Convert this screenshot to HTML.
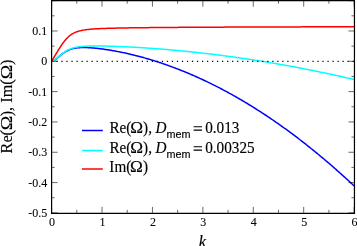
<!DOCTYPE html>
<html><head><meta charset="utf-8"><style>
html,body{margin:0;padding:0;background:#fff;width:357px;height:246px;overflow:hidden}
svg{display:block;will-change:transform}
text{font-family:"Liberation Serif",serif;fill:#000;stroke:#000;stroke-width:0.15px}
.tk text{stroke-width:0.08px}
</style></head><body>
<svg width="357" height="246" viewBox="0 0 357 246">
<path d="M51.60,61.30 L51.85,61.29 L52.10,61.26 L52.36,61.22 L52.61,61.16 L52.86,61.08 L53.11,60.98 L53.36,60.87 L53.62,60.75 L53.87,60.61 L54.12,60.47 L54.37,60.31 L54.63,60.14 L54.88,59.96 L55.13,59.78 L55.38,59.59 L55.63,59.40 L55.89,59.20 L56.14,58.99 L56.39,58.78 L56.64,58.57 L56.89,58.36 L57.15,58.15 L57.40,57.93 L57.65,57.71 L57.90,57.50 L58.15,57.28 L58.41,57.06 L58.66,56.85 L58.91,56.63 L59.16,56.42 L59.42,56.20 L59.67,55.99 L59.92,55.78 L60.17,55.57 L60.42,55.36 L60.68,55.16 L60.93,54.95 L61.18,54.75 L61.43,54.55 L61.68,54.35 L62.19,53.96 L62.69,53.58 L63.20,53.22 L63.70,52.86 L64.20,52.52 L64.71,52.19 L65.21,51.87 L65.72,51.56 L66.22,51.27 L66.73,50.99 L67.23,50.73 L67.73,50.47 L68.24,50.23 L68.74,50.01 L69.25,49.80 L69.75,49.60 L70.26,49.41 L70.76,49.23 L71.26,49.07 L71.77,48.91 L72.27,48.77 L72.78,48.64 L73.28,48.51 L73.78,48.40 L74.29,48.30 L74.79,48.20 L75.30,48.11 L75.80,48.03 L76.31,47.96 L76.81,47.89 L77.31,47.83 L77.82,47.78 L78.32,47.73 L78.83,47.69 L79.33,47.66 L79.84,47.63 L80.34,47.60 L80.84,47.58 L81.35,47.56 L81.85,47.55 L82.36,47.54 L82.86,47.53 L83.36,47.53 L83.87,47.53 L84.37,47.53 L84.88,47.54 L85.38,47.55 L85.89,47.56 L86.39,47.58 L86.89,47.59 L87.40,47.61 L87.90,47.64 L88.41,47.66 L88.91,47.69 L89.41,47.72 L89.92,47.75 L90.42,47.78 L90.93,47.82 L91.43,47.85 L91.94,47.89 L92.44,47.93 L92.94,47.97 L93.45,48.02 L93.95,48.06 L94.46,48.11 L94.96,48.16 L95.47,48.21 L95.97,48.26 L96.47,48.31 L96.98,48.36 L97.48,48.42 L97.99,48.47 L98.49,48.53 L98.99,48.59 L99.50,48.65 L100.00,48.71 L100.51,48.77 L101.01,48.84 L101.52,48.90 L102.02,48.97 L103.03,49.10 L104.04,49.24 L105.05,49.39 L106.05,49.53 L107.06,49.69 L108.07,49.84 L109.08,50.00 L110.09,50.17 L111.10,50.34 L112.10,50.51 L113.11,50.68 L114.12,50.86 L115.13,51.05 L116.14,51.23 L117.15,51.42 L118.15,51.62 L119.16,51.81 L120.17,52.02 L121.18,52.22 L122.19,52.43 L123.20,52.64 L124.20,52.85 L125.21,53.07 L126.22,53.30 L127.23,53.52 L128.24,53.75 L129.25,53.98 L130.26,54.22 L131.26,54.46 L132.27,54.70 L133.28,54.94 L134.29,55.19 L135.30,55.45 L136.31,55.70 L137.31,55.96 L138.32,56.22 L139.33,56.49 L140.34,56.76 L141.35,57.03 L142.36,57.30 L143.36,57.58 L144.37,57.87 L145.38,58.15 L146.39,58.44 L147.40,58.73 L148.41,59.03 L149.41,59.32 L150.42,59.63 L151.43,59.93 L152.44,60.24 L153.45,60.55 L154.46,60.87 L155.47,61.18 L156.47,61.50 L157.48,61.83 L158.49,62.16 L159.50,62.49 L160.51,62.82 L161.52,63.16 L162.52,63.50 L163.53,63.84 L164.54,64.19 L165.55,64.54 L166.56,64.89 L167.57,65.25 L168.57,65.61 L169.58,65.97 L170.59,66.34 L171.60,66.71 L172.61,67.08 L173.62,67.46 L174.62,67.84 L175.63,68.22 L176.64,68.60 L177.65,68.99 L178.66,69.39 L179.67,69.78 L180.68,70.18 L181.68,70.58 L182.69,70.99 L183.70,71.39 L184.71,71.80 L185.72,72.22 L186.73,72.64 L187.73,73.06 L188.74,73.48 L189.75,73.91 L190.76,74.34 L191.77,74.77 L192.78,75.21 L193.78,75.65 L194.79,76.09 L195.80,76.54 L196.81,76.99 L197.82,77.44 L198.83,77.90 L199.83,78.35 L200.84,78.82 L201.85,79.28 L202.86,79.75 L203.87,80.22 L204.88,80.70 L205.89,81.18 L206.89,81.66 L207.90,82.14 L208.91,82.63 L209.92,83.12 L210.93,83.61 L211.94,84.11 L212.94,84.61 L213.95,85.11 L214.96,85.62 L215.97,86.13 L216.98,86.64 L217.99,87.16 L218.99,87.68 L220.00,88.20 L221.01,88.73 L222.02,89.26 L223.03,89.79 L224.04,90.32 L225.04,90.86 L226.05,91.41 L227.06,91.95 L228.07,92.50 L229.08,93.05 L230.09,93.60 L231.10,94.16 L232.10,94.72 L233.11,95.29 L234.12,95.85 L235.13,96.42 L236.14,97.00 L237.15,97.57 L238.15,98.15 L239.16,98.74 L240.17,99.32 L241.18,99.91 L242.19,100.50 L243.20,101.10 L244.20,101.70 L245.21,102.30 L246.22,102.90 L247.23,103.51 L248.24,104.12 L249.25,104.74 L250.25,105.36 L251.26,105.98 L252.27,106.60 L253.28,107.23 L254.29,107.86 L255.30,108.49 L256.31,109.13 L257.31,109.77 L258.32,110.41 L259.33,111.06 L260.34,111.71 L261.35,112.36 L262.36,113.02 L263.36,113.68 L264.37,114.34 L265.38,115.00 L266.39,115.67 L267.40,116.34 L268.41,117.02 L269.41,117.70 L270.42,118.38 L271.43,119.06 L272.44,119.75 L273.45,120.44 L274.46,121.13 L275.46,121.83 L276.47,122.53 L277.48,123.23 L278.49,123.94 L279.50,124.65 L280.51,125.36 L281.52,126.08 L282.52,126.80 L283.53,127.52 L284.54,128.25 L285.55,128.97 L286.56,129.71 L287.57,130.44 L288.57,131.18 L289.58,131.92 L290.59,132.66 L291.60,133.41 L292.61,134.16 L293.62,134.92 L294.62,135.67 L295.63,136.43 L296.64,137.20 L297.65,137.96 L298.66,138.73 L299.67,139.51 L300.67,140.28 L301.68,141.06 L302.69,141.84 L303.70,142.63 L304.71,143.42 L305.72,144.21 L306.73,145.00 L307.73,145.80 L308.74,146.60 L309.75,147.41 L310.76,148.22 L311.77,149.03 L312.78,149.84 L313.78,150.66 L314.79,151.48 L315.80,152.30 L316.81,153.13 L317.82,153.96 L318.83,154.79 L319.83,155.63 L320.84,156.47 L321.85,157.31 L322.86,158.15 L323.87,159.00 L324.88,159.85 L325.88,160.71 L326.89,161.57 L327.90,162.43 L328.91,163.29 L329.92,164.16 L330.93,165.03 L331.94,165.91 L332.94,166.78 L333.95,167.66 L334.96,168.55 L335.97,169.43 L336.98,170.32 L337.99,171.22 L338.99,172.11 L340.00,173.01 L341.01,173.91 L342.02,174.82 L343.03,175.73 L344.04,176.64 L345.04,177.56 L346.05,178.47 L347.06,179.40 L348.07,180.32 L349.08,181.25 L350.09,182.18 L351.09,183.11 L352.10,184.05 L353.11,184.99 L354.12,185.93" stroke="#0000ff" stroke-width="1.5" fill="none" stroke-linejoin="round"/>
<path d="M51.60,61.30 L51.85,61.29 L52.10,61.26 L52.36,61.22 L52.61,61.16 L52.86,61.08 L53.11,60.98 L53.36,60.87 L53.62,60.75 L53.87,60.61 L54.12,60.46 L54.37,60.30 L54.63,60.13 L54.88,59.95 L55.13,59.77 L55.38,59.57 L55.63,59.38 L55.89,59.17 L56.14,58.97 L56.39,58.76 L56.64,58.54 L56.89,58.33 L57.15,58.11 L57.40,57.89 L57.65,57.67 L57.90,57.45 L58.15,57.23 L58.41,57.01 L58.66,56.79 L58.91,56.57 L59.16,56.35 L59.42,56.13 L59.67,55.92 L59.92,55.70 L60.17,55.48 L60.42,55.27 L60.68,55.06 L60.93,54.85 L61.18,54.64 L61.43,54.44 L61.68,54.23 L62.19,53.83 L62.69,53.44 L63.20,53.06 L63.70,52.69 L64.20,52.33 L64.71,51.99 L65.21,51.65 L65.72,51.33 L66.22,51.02 L66.73,50.72 L67.23,50.44 L67.73,50.17 L68.24,49.91 L68.74,49.67 L69.25,49.43 L69.75,49.21 L70.26,49.00 L70.76,48.80 L71.26,48.62 L71.77,48.44 L72.27,48.27 L72.78,48.12 L73.28,47.97 L73.78,47.83 L74.29,47.70 L74.79,47.58 L75.30,47.46 L75.80,47.35 L76.31,47.25 L76.81,47.16 L77.31,47.07 L77.82,46.98 L78.32,46.90 L78.83,46.83 L79.33,46.76 L79.84,46.70 L80.34,46.64 L80.84,46.58 L81.35,46.53 L81.85,46.48 L82.36,46.44 L82.86,46.39 L83.36,46.35 L83.87,46.32 L84.37,46.28 L84.88,46.25 L85.38,46.22 L85.89,46.19 L86.39,46.17 L86.89,46.15 L87.40,46.12 L87.90,46.10 L88.41,46.09 L88.91,46.07 L89.41,46.05 L89.92,46.04 L90.42,46.03 L90.93,46.02 L91.43,46.01 L91.94,46.00 L92.44,45.99 L92.94,45.99 L93.45,45.98 L93.95,45.98 L94.46,45.97 L94.96,45.97 L95.47,45.97 L95.97,45.97 L96.47,45.97 L96.98,45.97 L97.48,45.97 L97.99,45.97 L98.49,45.97 L98.99,45.98 L99.50,45.98 L100.00,45.99 L100.51,45.99 L101.01,46.00 L101.52,46.00 L102.02,46.01 L103.03,46.03 L104.04,46.05 L105.05,46.06 L106.05,46.09 L107.06,46.11 L108.07,46.13 L109.08,46.16 L110.09,46.19 L111.10,46.22 L112.10,46.25 L113.11,46.28 L114.12,46.32 L115.13,46.35 L116.14,46.39 L117.15,46.43 L118.15,46.47 L119.16,46.51 L120.17,46.55 L121.18,46.59 L122.19,46.63 L123.20,46.68 L124.20,46.72 L125.21,46.77 L126.22,46.82 L127.23,46.87 L128.24,46.92 L129.25,46.97 L130.26,47.02 L131.26,47.08 L132.27,47.13 L133.28,47.19 L134.29,47.24 L135.30,47.30 L136.31,47.36 L137.31,47.42 L138.32,47.48 L139.33,47.54 L140.34,47.60 L141.35,47.66 L142.36,47.73 L143.36,47.79 L144.37,47.86 L145.38,47.92 L146.39,47.99 L147.40,48.06 L148.41,48.13 L149.41,48.20 L150.42,48.27 L151.43,48.34 L152.44,48.41 L153.45,48.49 L154.46,48.56 L155.47,48.64 L156.47,48.72 L157.48,48.79 L158.49,48.87 L159.50,48.95 L160.51,49.03 L161.52,49.11 L162.52,49.19 L163.53,49.27 L164.54,49.36 L165.55,49.44 L166.56,49.53 L167.57,49.61 L168.57,49.70 L169.58,49.79 L170.59,49.87 L171.60,49.96 L172.61,50.05 L173.62,50.15 L174.62,50.24 L175.63,50.33 L176.64,50.42 L177.65,50.52 L178.66,50.61 L179.67,50.71 L180.68,50.81 L181.68,50.90 L182.69,51.00 L183.70,51.10 L184.71,51.20 L185.72,51.30 L186.73,51.40 L187.73,51.51 L188.74,51.61 L189.75,51.71 L190.76,51.82 L191.77,51.93 L192.78,52.03 L193.78,52.14 L194.79,52.25 L195.80,52.36 L196.81,52.47 L197.82,52.58 L198.83,52.69 L199.83,52.80 L200.84,52.92 L201.85,53.03 L202.86,53.14 L203.87,53.26 L204.88,53.38 L205.89,53.49 L206.89,53.61 L207.90,53.73 L208.91,53.85 L209.92,53.97 L210.93,54.09 L211.94,54.22 L212.94,54.34 L213.95,54.46 L214.96,54.59 L215.97,54.71 L216.98,54.84 L217.99,54.97 L218.99,55.10 L220.00,55.22 L221.01,55.35 L222.02,55.48 L223.03,55.62 L224.04,55.75 L225.04,55.88 L226.05,56.01 L227.06,56.15 L228.07,56.28 L229.08,56.42 L230.09,56.56 L231.10,56.70 L232.10,56.83 L233.11,56.97 L234.12,57.11 L235.13,57.25 L236.14,57.40 L237.15,57.54 L238.15,57.68 L239.16,57.83 L240.17,57.97 L241.18,58.12 L242.19,58.26 L243.20,58.41 L244.20,58.56 L245.21,58.71 L246.22,58.86 L247.23,59.01 L248.24,59.16 L249.25,59.31 L250.25,59.47 L251.26,59.62 L252.27,59.77 L253.28,59.93 L254.29,60.09 L255.30,60.24 L256.31,60.40 L257.31,60.56 L258.32,60.72 L259.33,60.88 L260.34,61.04 L261.35,61.20 L262.36,61.37 L263.36,61.53 L264.37,61.69 L265.38,61.86 L266.39,62.02 L267.40,62.19 L268.41,62.36 L269.41,62.53 L270.42,62.70 L271.43,62.87 L272.44,63.04 L273.45,63.21 L274.46,63.38 L275.46,63.55 L276.47,63.73 L277.48,63.90 L278.49,64.08 L279.50,64.25 L280.51,64.43 L281.52,64.61 L282.52,64.79 L283.53,64.97 L284.54,65.15 L285.55,65.33 L286.56,65.51 L287.57,65.69 L288.57,65.88 L289.58,66.06 L290.59,66.25 L291.60,66.43 L292.61,66.62 L293.62,66.81 L294.62,66.99 L295.63,67.18 L296.64,67.37 L297.65,67.56 L298.66,67.75 L299.67,67.95 L300.67,68.14 L301.68,68.33 L302.69,68.53 L303.70,68.72 L304.71,68.92 L305.72,69.12 L306.73,69.31 L307.73,69.51 L308.74,69.71 L309.75,69.91 L310.76,70.11 L311.77,70.32 L312.78,70.52 L313.78,70.72 L314.79,70.93 L315.80,71.13 L316.81,71.34 L317.82,71.54 L318.83,71.75 L319.83,71.96 L320.84,72.17 L321.85,72.38 L322.86,72.59 L323.87,72.80 L324.88,73.01 L325.88,73.22 L326.89,73.44 L327.90,73.65 L328.91,73.87 L329.92,74.08 L330.93,74.30 L331.94,74.52 L332.94,74.74 L333.95,74.96 L334.96,75.18 L335.97,75.40 L336.98,75.62 L337.99,75.84 L338.99,76.07 L340.00,76.29 L341.01,76.51 L342.02,76.74 L343.03,76.97 L344.04,77.19 L345.04,77.42 L346.05,77.65 L347.06,77.88 L348.07,78.11 L349.08,78.34 L350.09,78.57 L351.09,78.81 L352.10,79.04 L353.11,79.27 L354.12,79.51" stroke="#00ffff" stroke-width="1.5" fill="none" stroke-linejoin="round"/>
<path d="M51.60,61.30 L51.85,60.88 L52.10,60.45 L52.36,60.03 L52.61,59.61 L52.86,59.18 L53.11,58.76 L53.36,58.34 L53.62,57.91 L53.87,57.49 L54.12,57.07 L54.37,56.65 L54.63,56.22 L54.88,55.80 L55.13,55.38 L55.38,54.96 L55.63,54.54 L55.89,54.12 L56.14,53.70 L56.39,53.29 L56.64,52.87 L56.89,52.45 L57.15,52.04 L57.40,51.62 L57.65,51.21 L57.90,50.80 L58.15,50.39 L58.41,49.98 L58.66,49.58 L58.91,49.17 L59.16,48.77 L59.42,48.37 L59.67,47.97 L59.92,47.58 L60.17,47.19 L60.42,46.80 L60.68,46.41 L60.93,46.03 L61.18,45.65 L61.43,45.28 L61.68,44.90 L62.19,44.17 L62.69,43.46 L63.20,42.76 L63.70,42.08 L64.20,41.42 L64.71,40.79 L65.21,40.17 L65.72,39.58 L66.22,39.01 L66.73,38.46 L67.23,37.93 L67.73,37.43 L68.24,36.95 L68.74,36.50 L69.25,36.06 L69.75,35.65 L70.26,35.26 L70.76,34.89 L71.26,34.54 L71.77,34.21 L72.27,33.90 L72.78,33.60 L73.28,33.32 L73.78,33.06 L74.29,32.81 L74.79,32.58 L75.30,32.36 L75.80,32.15 L76.31,31.95 L76.81,31.77 L77.31,31.59 L77.82,31.43 L78.32,31.27 L78.83,31.13 L79.33,30.99 L79.84,30.86 L80.34,30.73 L80.84,30.62 L81.35,30.51 L81.85,30.40 L82.36,30.30 L82.86,30.21 L83.36,30.12 L83.87,30.03 L84.37,29.95 L84.88,29.88 L85.38,29.80 L85.89,29.73 L86.39,29.67 L86.89,29.61 L87.40,29.55 L87.90,29.49 L88.41,29.43 L88.91,29.38 L89.41,29.33 L89.92,29.28 L90.42,29.24 L90.93,29.19 L91.43,29.15 L91.94,29.11 L92.44,29.07 L92.94,29.03 L93.45,29.00 L93.95,28.96 L94.46,28.93 L94.96,28.90 L95.47,28.86 L95.97,28.83 L96.47,28.80 L96.98,28.78 L97.48,28.75 L97.99,28.72 L98.49,28.70 L98.99,28.67 L99.50,28.65 L100.00,28.62 L100.51,28.60 L101.01,28.58 L101.52,28.56 L102.02,28.54 L103.03,28.50 L104.04,28.46 L105.05,28.42 L106.05,28.39 L107.06,28.36 L108.07,28.33 L109.08,28.30 L110.09,28.27 L111.10,28.24 L112.10,28.21 L113.11,28.19 L114.12,28.16 L115.13,28.14 L116.14,28.12 L117.15,28.09 L118.15,28.07 L119.16,28.05 L120.17,28.03 L121.18,28.01 L122.19,27.99 L123.20,27.98 L124.20,27.96 L125.21,27.94 L126.22,27.92 L127.23,27.91 L128.24,27.89 L129.25,27.87 L130.26,27.86 L131.26,27.84 L132.27,27.83 L133.28,27.82 L134.29,27.80 L135.30,27.79 L136.31,27.77 L137.31,27.76 L138.32,27.75 L139.33,27.74 L140.34,27.72 L141.35,27.71 L142.36,27.70 L143.36,27.69 L144.37,27.68 L145.38,27.66 L146.39,27.65 L147.40,27.64 L148.41,27.63 L149.41,27.62 L150.42,27.61 L151.43,27.60 L152.44,27.59 L153.45,27.58 L154.46,27.57 L155.47,27.56 L156.47,27.55 L157.48,27.54 L158.49,27.53 L159.50,27.52 L160.51,27.52 L161.52,27.51 L162.52,27.50 L163.53,27.49 L164.54,27.48 L165.55,27.47 L166.56,27.46 L167.57,27.46 L168.57,27.45 L169.58,27.44 L170.59,27.43 L171.60,27.43 L172.61,27.42 L173.62,27.41 L174.62,27.40 L175.63,27.40 L176.64,27.39 L177.65,27.38 L178.66,27.37 L179.67,27.37 L180.68,27.36 L181.68,27.35 L182.69,27.35 L183.70,27.34 L184.71,27.33 L185.72,27.33 L186.73,27.32 L187.73,27.31 L188.74,27.31 L189.75,27.30 L190.76,27.30 L191.77,27.29 L192.78,27.28 L193.78,27.28 L194.79,27.27 L195.80,27.27 L196.81,27.26 L197.82,27.25 L198.83,27.25 L199.83,27.24 L200.84,27.24 L201.85,27.23 L202.86,27.23 L203.87,27.22 L204.88,27.22 L205.89,27.21 L206.89,27.21 L207.90,27.20 L208.91,27.20 L209.92,27.19 L210.93,27.19 L211.94,27.18 L212.94,27.18 L213.95,27.17 L214.96,27.17 L215.97,27.16 L216.98,27.16 L217.99,27.15 L218.99,27.15 L220.00,27.14 L221.01,27.14 L222.02,27.13 L223.03,27.13 L224.04,27.13 L225.04,27.12 L226.05,27.12 L227.06,27.11 L228.07,27.11 L229.08,27.10 L230.09,27.10 L231.10,27.10 L232.10,27.09 L233.11,27.09 L234.12,27.08 L235.13,27.08 L236.14,27.08 L237.15,27.07 L238.15,27.07 L239.16,27.06 L240.17,27.06 L241.18,27.06 L242.19,27.05 L243.20,27.05 L244.20,27.04 L245.21,27.04 L246.22,27.04 L247.23,27.03 L248.24,27.03 L249.25,27.03 L250.25,27.02 L251.26,27.02 L252.27,27.02 L253.28,27.01 L254.29,27.01 L255.30,27.01 L256.31,27.00 L257.31,27.00 L258.32,27.00 L259.33,26.99 L260.34,26.99 L261.35,26.99 L262.36,26.98 L263.36,26.98 L264.37,26.98 L265.38,26.97 L266.39,26.97 L267.40,26.97 L268.41,26.96 L269.41,26.96 L270.42,26.96 L271.43,26.95 L272.44,26.95 L273.45,26.95 L274.46,26.95 L275.46,26.94 L276.47,26.94 L277.48,26.94 L278.49,26.93 L279.50,26.93 L280.51,26.93 L281.52,26.93 L282.52,26.92 L283.53,26.92 L284.54,26.92 L285.55,26.91 L286.56,26.91 L287.57,26.91 L288.57,26.91 L289.58,26.90 L290.59,26.90 L291.60,26.90 L292.61,26.90 L293.62,26.89 L294.62,26.89 L295.63,26.89 L296.64,26.89 L297.65,26.88 L298.66,26.88 L299.67,26.88 L300.67,26.88 L301.68,26.87 L302.69,26.87 L303.70,26.87 L304.71,26.87 L305.72,26.86 L306.73,26.86 L307.73,26.86 L308.74,26.86 L309.75,26.85 L310.76,26.85 L311.77,26.85 L312.78,26.85 L313.78,26.85 L314.79,26.84 L315.80,26.84 L316.81,26.84 L317.82,26.84 L318.83,26.83 L319.83,26.83 L320.84,26.83 L321.85,26.83 L322.86,26.83 L323.87,26.82 L324.88,26.82 L325.88,26.82 L326.89,26.82 L327.90,26.81 L328.91,26.81 L329.92,26.81 L330.93,26.81 L331.94,26.81 L332.94,26.80 L333.95,26.80 L334.96,26.80 L335.97,26.80 L336.98,26.80 L337.99,26.79 L338.99,26.79 L340.00,26.79 L341.01,26.79 L342.02,26.79 L343.03,26.78 L344.04,26.78 L345.04,26.78 L346.05,26.78 L347.06,26.78 L348.07,26.78 L349.08,26.77 L350.09,26.77 L351.09,26.77 L352.10,26.77 L353.11,26.77 L354.12,26.76" stroke="#ff0000" stroke-width="1.5" fill="none" stroke-linejoin="round"/>
<path d="M56.4,61.35H354" stroke="#000" stroke-width="1.3" stroke-dasharray="1.2 3.82" fill="none"/>
<path d="M51.60,212.9v-6M51.60,0.66v6M76.81,212.9v-3M76.81,0.66v3M102.02,212.9v-6M102.02,0.66v6M127.23,212.9v-3M127.23,0.66v3M152.44,212.9v-6M152.44,0.66v6M177.65,212.9v-3M177.65,0.66v3M202.86,212.9v-6M202.86,0.66v6M228.07,212.9v-3M228.07,0.66v3M253.28,212.9v-6M253.28,0.66v6M278.49,212.9v-3M278.49,0.66v3M303.70,212.9v-6M303.70,0.66v6M328.91,212.9v-3M328.91,0.66v3M354.12,212.9v-6M354.12,0.66v6M51.6,212.90h6M354.45,212.90h-6M51.6,197.74h3M354.45,197.74h-3M51.6,182.58h6M354.45,182.58h-6M51.6,167.42h3M354.45,167.42h-3M51.6,152.26h6M354.45,152.26h-6M51.6,137.10h3M354.45,137.10h-3M51.6,121.94h6M354.45,121.94h-6M51.6,106.78h3M354.45,106.78h-3M51.6,91.62h6M354.45,91.62h-6M51.6,76.46h3M354.45,76.46h-3M51.6,61.30h6M354.45,61.30h-6M51.6,46.14h3M354.45,46.14h-3M51.6,30.98h6M354.45,30.98h-6M51.6,15.82h3M354.45,15.82h-3M51.6,0.66h6M354.45,0.66h-6" stroke="#000" stroke-width="0.6" fill="none"/>
<path d="M51.6,0.66H354.45V213.35H51.6Z" fill="none" stroke="#000" stroke-width="1.2"/>
<g font-size="12" class="tk">
<text x="47.3" y="216.95" text-anchor="end">-0.5</text><text x="47.3" y="186.63" text-anchor="end">-0.4</text><text x="47.3" y="156.31" text-anchor="end">-0.3</text><text x="47.3" y="125.99" text-anchor="end">-0.2</text><text x="47.3" y="95.67" text-anchor="end">-0.1</text><text x="47.3" y="65.35" text-anchor="end">0</text><text x="47.3" y="35.03" text-anchor="end">0.1</text>
<text x="52.10" y="226.3" text-anchor="middle">0</text><text x="102.52" y="226.3" text-anchor="middle">1</text><text x="152.94" y="226.3" text-anchor="middle">2</text><text x="203.36" y="226.3" text-anchor="middle">3</text><text x="253.78" y="226.3" text-anchor="middle">4</text><text x="304.20" y="226.3" text-anchor="middle">5</text><text x="354.62" y="226.3" text-anchor="middle">6</text>
</g>
<text x="202.4" y="246.5" font-size="16.3" font-style="italic" text-anchor="middle">k</text>
<g transform="translate(11.8,0) rotate(-90)"><text x="-153.47" y="0" font-size="16.3">Re(</text><text transform="translate(-130.31,0) scale(1.2,1)" font-size="16.3">Ω</text><text x="-116.33" y="0" font-size="16.3">), Im(</text><text transform="translate(-79.31,0) scale(1.2,1)" font-size="16.3">Ω</text><text x="-64.93" y="0" font-size="16.3">)</text></g>
<path d="M82,130.5H102.8" stroke="#0000ff" stroke-width="1.5"/>
<path d="M82,150.5H102.8" stroke="#00ffff" stroke-width="1.5"/>
<path d="M82,169.0H102.8" stroke="#ff0000" stroke-width="1.5"/>
<text transform="translate(109.46,132.6) scale(1,1.05)" font-size="15.2">Re(</text><text transform="translate(130.21,132.6) scale(1.134,1.05)" font-size="15.2">Ω</text><text transform="translate(143.11,132.6) scale(1,1.05)" font-size="15.2">),</text><text transform="translate(155.47,132.6) scale(1,1.05)" font-size="15.2" font-style="italic">D</text><text transform="translate(166.48,138.2) scale(1,1.05)" font-size="10.8" style="font-family:'Liberation Sans',sans-serif">mem</text><path d="M193.6,126.70H202.0M193.6,130.10H202.0" stroke="#000" stroke-width="1.15"/><text transform="translate(205.22,132.6) scale(1,1.05)" font-size="15.2">0.013</text>
<text transform="translate(109.46,152.6) scale(1,1.05)" font-size="15.2">Re(</text><text transform="translate(130.21,152.6) scale(1.134,1.05)" font-size="15.2">Ω</text><text transform="translate(143.11,152.6) scale(1,1.05)" font-size="15.2">),</text><text transform="translate(155.47,152.6) scale(1,1.05)" font-size="15.2" font-style="italic">D</text><text transform="translate(166.48,158.2) scale(1,1.05)" font-size="10.8" style="font-family:'Liberation Sans',sans-serif">mem</text><path d="M193.6,146.70H202.0M193.6,150.10H202.0" stroke="#000" stroke-width="1.15"/><text transform="translate(205.22,152.6) scale(1,1.05)" font-size="15.2">0.00325</text>
<text transform="translate(109.35,172.3) scale(1,1.05)" font-size="15.2">Im(</text><text transform="translate(130.11,172.3) scale(1.134,1.05)" font-size="15.2">Ω</text><text transform="translate(142.91,172.3) scale(1,1.05)" font-size="15.2">)</text>
</svg>
</body></html>
